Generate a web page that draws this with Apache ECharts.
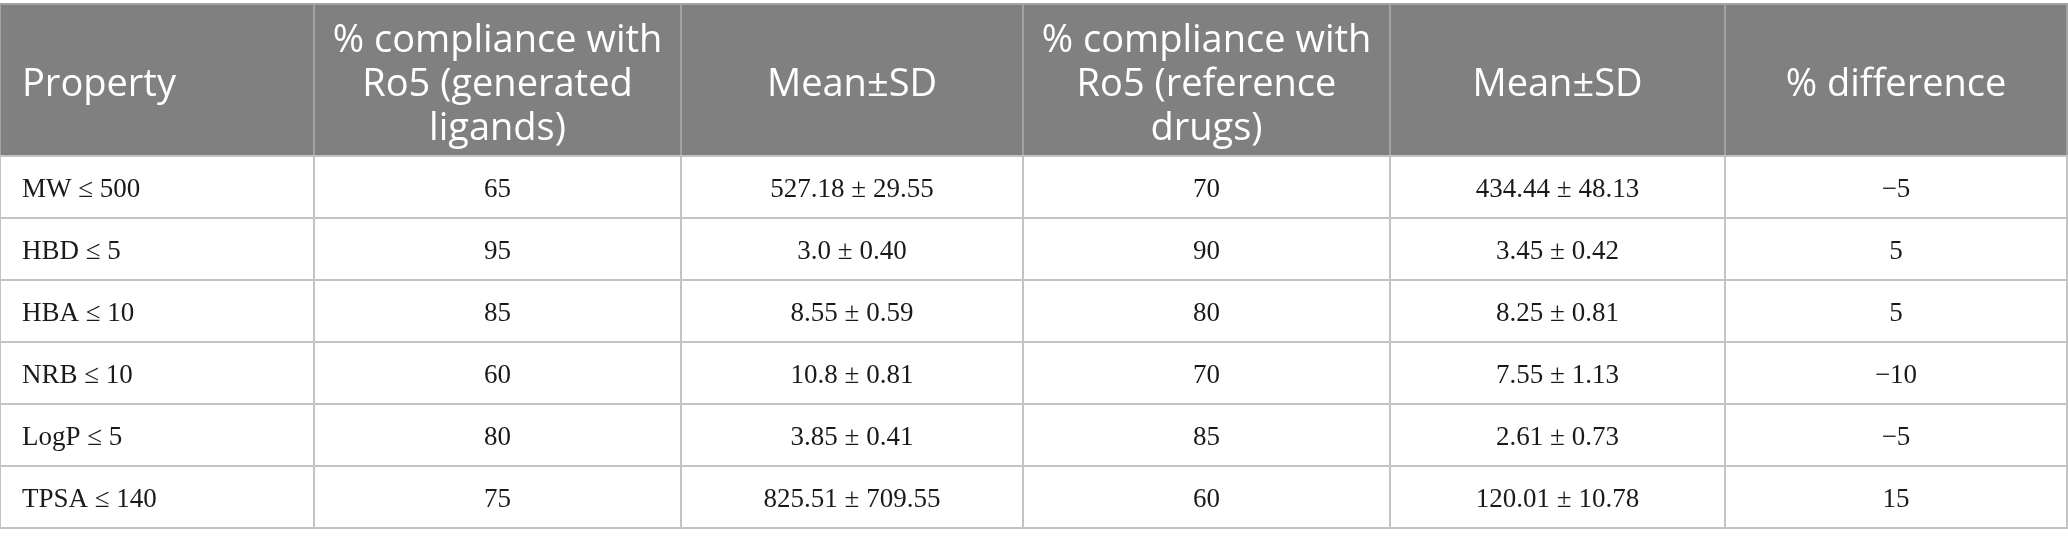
<!DOCTYPE html>
<html>
<head>
<meta charset="utf-8">
<script src="https://cdn.jsdelivr.net/npm/echarts@6/dist/echarts.min.js"></script>
<style>
  html, body { margin: 0; padding: 0; background: #fff; }
  #table { width: 2068px; height: 543px; }
</style>
</head>
<body>
<div id="table"></div>
<script>
// 表头
const headers = [
  'Property',
  '% compliance with\nRo5 (generated\nligands)',
  'Mean±SD',
  '% compliance with\nRo5 (reference\ndrugs)',
  'Mean±SD',
  '% difference'
]

// 表格数据
const properties = ['MW ≤ 500', 'HBD ≤ 5', 'HBA ≤ 10', 'NRB ≤ 10', 'LogP ≤ 5', 'TPSA ≤ 140']
const genCompliance = ['65', '95', '85', '60', '80', '75']
const genMeanSD = ['527.18 ± 29.55', '3.0 ± 0.40', '8.55 ± 0.59', '10.8 ± 0.81', '3.85 ± 0.41', '825.51 ± 709.55']
const refCompliance = ['70', '90', '80', '70', '85', '60']
const refMeanSD = ['434.44 ± 48.13', '3.45 ± 0.42', '8.25 ± 0.81', '7.55 ± 1.13', '2.61 ± 0.73', '120.01 ± 10.78']
const pctDiff = ['−5', '5', '5', '−10', '−5', '15']

// 布局
const colWidths = [314, 367, 342, 367, 335, 342]
const rowHeights = [152, 62, 62, 62, 62, 62, 62]

const colEdges = [0]
colWidths.forEach(w => colEdges.push(colEdges[colEdges.length - 1] + w))
const rowEdges = [0]
rowHeights.forEach(h => rowEdges.push(rowEdges[rowEdges.length - 1] + h))

const columns = [properties, genCompliance, genMeanSD, refCompliance, refMeanSD, pctDiff]

const cells = []
headers.forEach((text, c) => cells.push([c, 0, text]))
properties.forEach((_, r) => {
  columns.forEach((col, c) => cells.push([c, r + 1, col[r]]))
})

function renderCell(params, api) {
  const c = api.value(0)
  const r = api.value(1)
  const text = cells[params.dataIndex][2]
  const p0 = api.coord([colEdges[c], rowEdges[r]])
  const p1 = api.coord([colEdges[c + 1], rowEdges[r + 1]])
  const isHeader = r === 0
  const left = c === 0
  return {
    type: 'group',
    children: [
      {
        type: 'rect',
        shape: { x: p0[0], y: p0[1], width: p1[0] - p0[0], height: p1[1] - p0[1] },
        style: {
          fill: isHeader ? '#808080' : '#ffffff',
          stroke: isHeader ? '#a3a3a3' : '#c3c3c3',
          lineWidth: 2
        }
      },
      {
        type: 'text',
        z2: 10,
        style: {
          text: text,
          x: left ? p0[0] + 22 : (p0[0] + p1[0]) / 2,
          y: (p0[1] + p1[1]) / 2 + (isHeader ? 5 : 3),
          align: left ? 'left' : 'center',
          verticalAlign: 'middle',
          fill: isHeader ? '#ffffff' : '#1a1a1a',
          fontFamily: isHeader ? 'Open Sans' : 'Liberation Serif',
          fontSize: isHeader ? 38 : 27,
          lineHeight: isHeader ? 44 : 30
        }
      }
    ]
  }
}

const chart = echarts.init(document.getElementById('table'), null, { renderer: 'canvas' })
chart.setOption({
  animation: false,
  grid: { left: 0, top: 4, width: colEdges[colEdges.length - 1], height: rowEdges[rowEdges.length - 1] },
  xAxis: {
    type: 'value',
    min: 0,
    max: colEdges[colEdges.length - 1],
    show: false
  },
  yAxis: {
    type: 'value',
    inverse: true,
    min: 0,
    max: rowEdges[rowEdges.length - 1],
    show: false
  },
  series: [
    {
      type: 'custom',
      renderItem: renderCell,
      data: cells.map(d => [d[0], d[1]]),
      clip: false
    }
  ]
})
</script>
</body>
</html>
